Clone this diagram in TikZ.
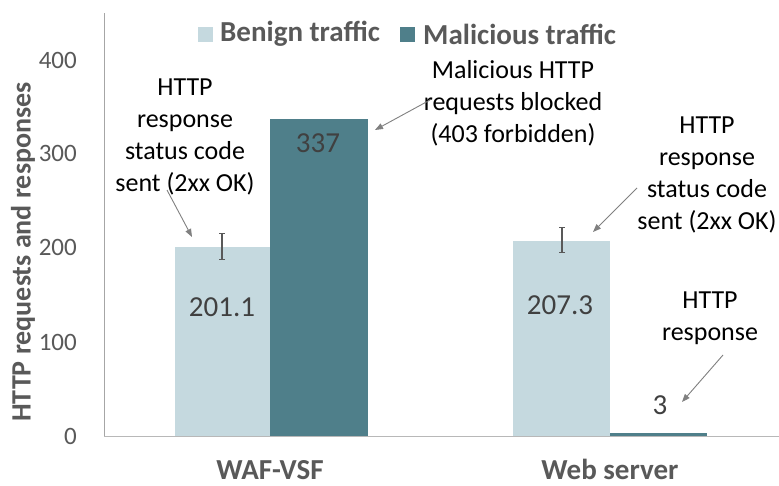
\documentclass[tikz,border=0pt]{standalone}
\usepackage{fontspec}
\setmainfont{Carlito}
\usetikzlibrary{arrows.meta}
\definecolor{benign}{HTML}{C5D9DF}
\definecolor{malic}{HTML}{4F7F8A}
\definecolor{txtgray}{HTML}{595959}
\definecolor{valgray}{HTML}{404040}
\definecolor{axisgray}{HTML}{A6A6A6}
\definecolor{arrgray}{HTML}{808080}
\tikzset{
  ticklbl/.style={anchor=east, text=txtgray, font=\fontsize{25}{25}\selectfont, inner sep=0pt},
  vallbl/.style={text=valgray, font=\fontsize{29}{29}\selectfont, inner sep=0pt},
  note/.style={align=center, text=black, font=\fontsize{26}{32}\selectfont, inner sep=0pt},
  catlbl/.style={anchor=base, text=txtgray, font=\bfseries\fontsize{29}{29}\selectfont, inner sep=0pt, text depth=0pt},
  leglbl/.style={anchor=west, text=txtgray, font=\bfseries\fontsize{29}{29}\selectfont, inner sep=0pt},
  callout/.style={draw=arrgray, line width=0.9pt, -{Triangle[length=8pt,width=6pt]}},
  errbar/.style={draw=txtgray, line width=1.1pt, {Bar[width=6pt]}-{Bar[width=6pt]}},
}
\begin{document}
\begin{tikzpicture}[x=1pt, y=-1pt]
  \useasboundingbox (0,0) rectangle (779,485);
  \fill[white] (0,0) rectangle (779,485);

  % bars (0 at y=436, 94 px per 100)
  \fill[benign] (175,436) rectangle (270,247);
  \fill[malic]  (270,436) rectangle (368,119);
  \fill[benign] (513,436) rectangle (610,241);
  \fill[malic]  (610,436) rectangle (707,433);

  % error bars
  \draw[errbar] (222,260) -- (222,233);
  \draw[errbar] (562,253) -- (562,227);

  % axes
  \draw[axisgray, line width=1pt] (104,13) -- (104,436);
  \draw[axisgray!80, line width=1pt] (104,436) -- (779,436);

  % tick labels
  \node[ticklbl] (t0)   at (77,436) {0};
  \node[ticklbl] (t100) at (77,342) {100};
  \node[ticklbl] (t200) at (77,247) {200};
  \node[ticklbl] (t300) at (77,153) {300};
  \node[ticklbl] (t400) at (77,60)  {400};

  % axis title
  \node[text=txtgray, font=\bfseries\fontsize{28}{28}\selectfont, rotate=90, inner sep=0pt]
    (ytitle) at (23,252) {HTTP requests and responses};

  % legend
  \fill[benign] (198,27) rectangle (213,42);
  \node[leglbl] (lg1) at (220,34) {Benign traffic};
  \fill[malic] (400,27) rectangle (415,42);
  \node[leglbl] (lg2) at (423,34) {Malicious traffic};

  % value labels
  \node[vallbl] (v1) at (222,307) {201.1};
  \node[vallbl] (v2) at (318,143) {337};
  \node[vallbl] (v3) at (560,305) {207.3};
  \node[vallbl] (v4) at (660,405) {3};

  % category labels
  \node[catlbl] (c1) at (270,479) {WAF-VSF};
  \node[catlbl] (c2) at (610,479) {Web server};

  % annotations
  \node[note] (n1) at (185,137) {HTTP\\response\\status code\\sent (2xx OK)};
  \node[note] (n2) at (513,103) {Malicious HTTP\\requests blocked\\(403 forbidden)};
  \node[note] (n3) at (707,175) {HTTP\\response\\status code\\sent (2xx OK)};
  \node[note] (n4) at (710,318) {HTTP\\response};

  % callout arrows
  \coordinate (s1) at (167,190); \coordinate (e1) at (192,237);
  \coordinate (s2) at (430,100); \coordinate (e2) at (375,130);
  \coordinate (s3) at (637,188); \coordinate (e3) at (593,232);
  \coordinate (s4) at (723,355); \coordinate (e4) at (682,402);
  \draw[callout] (s1) -- (e1);
  \draw[callout] (s2) -- (e2);
  \draw[callout] (s3) -- (e3);
  \draw[callout] (s4) -- (e4);
\end{tikzpicture}
\end{document}
